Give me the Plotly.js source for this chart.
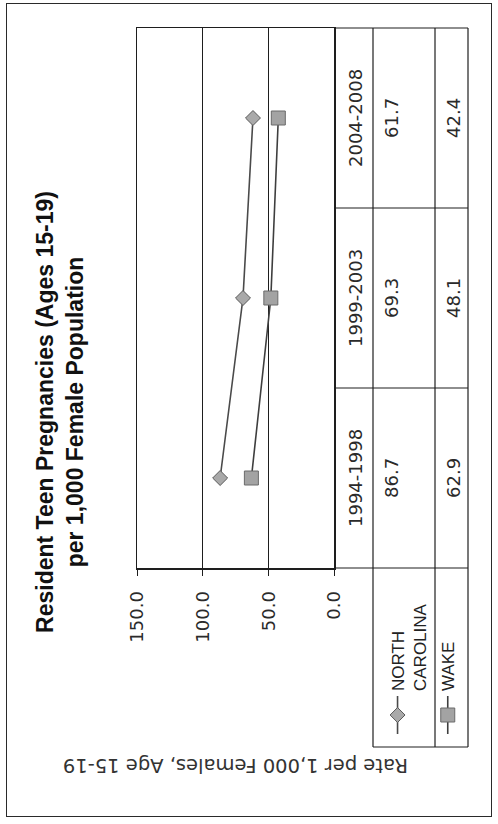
<!DOCTYPE html>
<html>
<head>
<meta charset="utf-8">
<script src="https://cdn.plot.ly/plotly-3.0.1.min.js"></script>
<style>
  html, body { margin: 0; padding: 0; background: #fff; overflow: hidden; }
  /* the chart is laid out landscape and turned a quarter-turn onto the portrait page */
  #frame {
    position: absolute; left: 0; top: 0;
    width: 824px; height: 498px;
    transform-origin: 0 0;
    transform: translate(0, 824px) rotate(-90deg);
    background: #fff;
  }
  #border {
    position: absolute; left: 7px; top: 6px; width: 814px; height: 486px;
    border: 1.5px solid #2a2a2a; box-sizing: border-box; pointer-events: none;
  }
  #chart { position: absolute; left: 0; top: 0; width: 824px; height: 498px; }
</style>
</head>
<body>
<div id="frame">
  <div id="chart"></div>
  <div id="border"></div>
</div>
<script>
// Resident teen pregnancy rates per 1,000 females aged 15-19
const periods = ['1994-1998', '1999-2003', '2004-2008'];
const seriesNames = ['NORTH<br>CAROLINA', 'WAKE'];
const ncRates = [86.7, 69.3, 61.7];
const wakeRates = [62.9, 48.1, 42.4];
const yTicks = [0, 50, 100, 150];

const W = 824, H = 498;
const M = { l: 256, r: 28, t: 137, b: 164 };
const plotW = W - M.l - M.r, plotH = H - M.t - M.b;
// pixel -> paper helpers for the data table drawn under the plot
const px = X => (X - M.l) / plotW;
const py = Y => (H - M.b - Y) / plotH;

const ink = '#1e1e1e';
const textFont = { family: 'DejaVu Sans, Verdana, sans-serif', size: 18, color: '#2a2a2a' };

const traces = [
  {
    x: periods, y: ncRates, name: seriesNames[0], type: 'scatter', mode: 'lines+markers',
    legendgroup: 'nc',
    line: { color: '#4a4a4a', width: 1.6 },
    marker: { symbol: 'diamond', size: 11.5, color: '#a9a9a9', line: { color: '#5a5a5a', width: 1 } }
  },
  {
    x: periods, y: wakeRates, name: seriesNames[1], type: 'scatter', mode: 'lines+markers',
    legendgroup: 'wake',
    line: { color: '#3e3e3e', width: 1.6 },
    marker: { symbol: 'square', size: 14, color: '#a3a3a3', line: { color: '#6a6a6a', width: 1 } }
  }
];

// table rows / columns
const rowTop = 334, headerBottom = 373, ncBottom = 435, tableBottom = 468, legendLeft = 77;
const shapes = [];
const hline = Y => ({ type: 'line', xref: 'paper', yref: 'paper', x0: px(legendLeft), x1: 1, y0: py(Y), y1: py(Y), line: { color: ink, width: 1.2 } });
[headerBottom, ncBottom, tableBottom].forEach(Y => shapes.push(hline(Y)));
// outer table edges continue the plot box
[0, 1].forEach(x => shapes.push({ type: 'line', xref: 'paper', yref: 'paper', x0: x, x1: x, y0: py(rowTop), y1: py(tableBottom), line: { color: ink, width: 1.2 } }));
// column dividers between periods
periods.slice(1).forEach((p, i) => shapes.push({ type: 'line', xref: 'x', yref: 'paper', x0: i + 0.5, x1: i + 0.5, y0: py(rowTop), y1: py(tableBottom), line: { color: ink, width: 1.2 } }));
// left edge of the legend column
shapes.push({ type: 'line', xref: 'paper', yref: 'paper', x0: px(legendLeft), x1: px(legendLeft), y0: py(headerBottom), y1: py(tableBottom), line: { color: ink, width: 1.2 } });

const annotations = [];
periods.forEach((p, i) => {
  annotations.push({ x: i, y: py(355), xref: 'x', yref: 'paper', text: p, showarrow: false, font: textFont, yanchor: 'middle' });
  annotations.push({ x: i, y: py(391), xref: 'x', yref: 'paper', text: ncRates[i].toFixed(1), showarrow: false, font: textFont, yanchor: 'middle' });
  annotations.push({ x: i, y: py(453), xref: 'x', yref: 'paper', text: wakeRates[i].toFixed(1), showarrow: false, font: textFont, yanchor: 'middle' });
});

const layout = {
  width: W, height: H,
  margin: M,
  paper_bgcolor: 'rgba(0,0,0,0)',
  plot_bgcolor: '#fff',
  title: {
    text: 'Resident Teen Pregnancies (Ages 15-19)<br>per 1,000 Female Population',
    font: { family: 'Liberation Sans, Arial, sans-serif', size: 23, color: '#111', weight: 'bold' },
    x: 0.5, xanchor: 'center', xref: 'container',
    y: (H - 53) / H, yanchor: 'top', yref: 'container'
  },
  xaxis: {
    type: 'category', range: [-0.5, 2.5], showticklabels: false, ticks: '',
    showgrid: false, zeroline: false, showline: true, mirror: true, linecolor: ink, linewidth: 1.5
  },
  yaxis: {
    range: [0, 150], tickvals: yTicks, tickformat: '.1f',
    ticks: 'outside', ticklen: 6, tickcolor: ink, ticklabelstandoff: 12,
    tickfont: textFont,
    showgrid: true, gridcolor: ink, gridwidth: 1,
    zeroline: false, showline: true, mirror: true, linecolor: ink, linewidth: 1.5,
    title: { text: 'Rate per 1,000 Females, Age 15-19', font: { family: 'DejaVu Sans, Verdana, sans-serif', size: 19.5, color: '#333' }, standoff: 110 }
  },
  showlegend: true,
  legend: {
    x: px(85), xanchor: 'left', y: py(380), yanchor: 'top',
    bgcolor: 'rgba(0,0,0,0)', borderwidth: 0,
    font: { family: 'Liberation Sans, Arial, sans-serif', size: 17, color: '#222' },
    valign: 'top', tracegroupgap: 3, traceorder: 'grouped', itemwidth: 38
  },
  shapes: shapes,
  annotations: annotations
};

Plotly.newPlot('chart', traces, layout, { staticPlot: true, displayModeBar: false });
</script>
</body>
</html>
